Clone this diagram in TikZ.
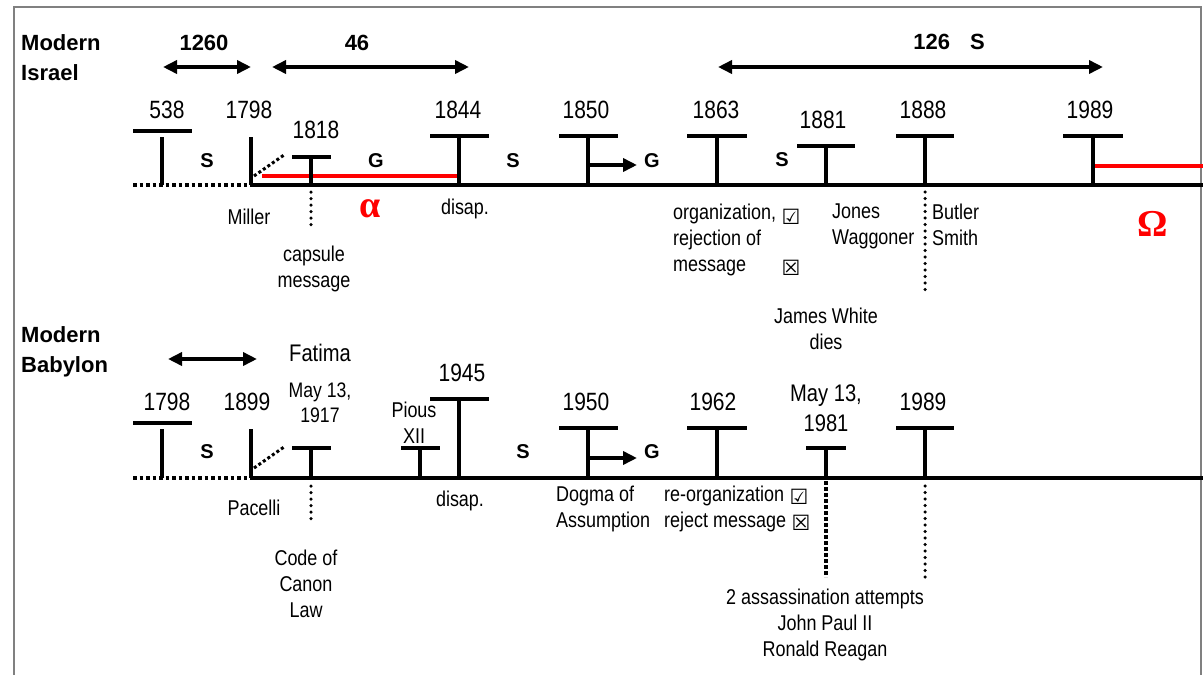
\documentclass[tikz,border=0pt]{standalone}
\usepackage{fontspec}
\setmainfont{Liberation Sans}
\newfontfamily\narrowfont[FakeStretch=0.84]{Liberation Sans}
\newfontfamily\boxfont{DejaVu Sans}
\newfontfamily\greekfont{Liberation Serif}
\usetikzlibrary{arrows.meta}

\begin{document}
\begin{tikzpicture}[x=1pt,y=-1pt,
  every node/.style={inner sep=0pt},
  year/.style={font=\narrowfont\fontsize{25}{28}\selectfont},
  lbl/.style={font=\narrowfont\fontsize{21.4}{26}\selectfont, align=center},
  head/.style={font=\bfseries\fontsize{22}{30}\selectfont},
  seg/.style={font=\bfseries\fontsize{20}{24}\selectfont},
  tick/.style={font=\boxfont\bfseries\fontsize{21}{22}\selectfont},
  greek/.style={font=\greekfont\bfseries\fontsize{38}{38}\selectfont, text=red},
  axis/.style={line width=3.6pt},
  early/.style={line width=3.6pt, dash pattern=on 3.5pt off 3pt},
  tbar/.style={line width=4pt},
  link/.style={line width=3pt, dash pattern=on 3pt off 2.5pt},
  drop/.style={line width=3.5pt, line cap=round, dash pattern=on 0pt off 6.5pt},
  sqdrop/.style={line width=3.5pt, dash pattern=on 3.5pt off 2.5pt},
  era/.style={line width=3.6pt, red},
  span/.style={line width=3.5pt, {Triangle[length=14pt,width=13pt]}-{Triangle[length=14pt,width=13pt]}},
  push/.style={line width=3.5pt, -{Triangle[length=14pt,width=13pt]}}
]
\useasboundingbox (0,0) rectangle (1203,675);
\draw[gray, line width=1.2pt] (14,680) -- (14,7) -- (1201,7) -- (1201,680);

% Modern Israel
\node[head, anchor=base west] (hIsr1) at (21,50) {Modern};
\node[head, anchor=base west] (hIsr2) at (21,80) {Israel};
\node[head] (n1260) at (204,43) {1260};
\node[head] (n46) at (357,43) {46};
\node[head] (n126) at (949,42) {126\hspace{20pt}S};
\coordinate (s1260a) at (163,67);
\coordinate (s1260b) at (251,67);
\coordinate (s46a) at (272,67);
\coordinate (s46b) at (469,67);
\coordinate (s126a) at (718,67);
\coordinate (s126b) at (1103,67);
\draw[span] (s1260a) -- (s1260b);
\draw[span] (s46a) -- (s46b);
\draw[span] (s126a) -- (s126b);

\draw[early] (133,185) -- (250,185);
\draw[axis] (250,185) -- (1203,185);
\draw[era] (262,176) -- (459,176);
\draw[era] (1093,166) -- (1203,166);

\draw[tbar] (133,131) -- (192,131);
\draw[tbar] (162,137) -- (162,185);
\draw[tbar] (251,137) -- (251,185);
\draw[link] (254,176) -- (284,155);
\draw[tbar] (292,157) -- (331,157);
\draw[tbar] (311,157) -- (311,185);
\draw[tbar] (430,136) -- (489,136);
\draw[tbar] (459,136) -- (459,185);
\draw[tbar] (559,136) -- (618,136);
\draw[tbar] (588,136) -- (588,185);
\coordinate (g1850a) at (588,165);
\coordinate (g1850b) at (637,165);
\draw[push] (g1850a) -- (g1850b);
\draw[tbar] (687,136) -- (747,136);
\draw[tbar] (717,136) -- (717,185);
\draw[tbar] (797,146) -- (855,146);
\draw[tbar] (826,146) -- (826,185);
\draw[tbar] (896,136) -- (954,136);
\draw[tbar] (925,136) -- (925,185);
\draw[tbar] (1063,136) -- (1123,136);
\draw[tbar] (1093,136) -- (1093,185);

\node[year] (y538) at (167,110) {538};
\node[year] (y1798a) at (249,110) {1798};
\node[year] (y1818) at (316,130) {1818};
\node[year] (y1844) at (458,110) {1844};
\node[year] (y1850) at (586,110) {1850};
\node[year] (y1863) at (716,110) {1863};
\node[year] (y1881) at (823,120) {1881};
\node[year] (y1888) at (923,110) {1888};
\node[year] (y1989a) at (1090,110) {1989};

\node[seg] (sA) at (207,161) {S};
\node[seg] (gA) at (376,161) {G};
\node[seg] (sB) at (513,161) {S};
\node[seg] (gB) at (652,161) {G};
\node[seg] (sC) at (782,160) {S};

\draw[drop] (311,192) -- (311,231);
\draw[drop] (925,192) -- (925,292);
\node[lbl] (lMiller) at (249,217) {Miller};
\node[lbl] (lCapsule) at (314,269) {capsule\\message};
\node[greek] (alpha) at (370,209) {α};
\node[lbl] (lDisapA) at (465,209) {disap.};
\node[lbl, anchor=north west, align=left] (lOrg) at (673,204) {organization,\\rejection of\\message};
\node[tick] (okA) at (791,217) {☑};
\node[tick] (noA) at (791,268) {☒};
\node[lbl, anchor=north west, align=left] (lJones) at (832,204) {Jones\\Waggoner};
\node[lbl, anchor=north west, align=left] (lButler) at (932,204) {Butler\\Smith};
\node[lbl] (lWhite) at (826,329) {James White\\dies};
\node[greek] (omega) at (1153,224) {Ω};

% Modern Babylon
\node[head, anchor=base west] (hBab1) at (21,342) {Modern};
\node[head, anchor=base west] (hBab2) at (21,372) {Babylon};
\coordinate (sBaba) at (168,359);
\coordinate (sBabb) at (257,359);
\draw[span] (sBaba) -- (sBabb);

\draw[early] (133,478) -- (250,478);
\draw[axis] (250,478) -- (1203,478);

\draw[tbar] (133,423) -- (192,423);
\draw[tbar] (162,429) -- (162,478);
\draw[tbar] (251,429) -- (251,478);
\draw[link] (254,468) -- (284,447);
\draw[tbar] (292,448) -- (331,448);
\draw[tbar] (311,448) -- (311,478);
\draw[tbar] (401,448) -- (440,448);
\draw[tbar] (420,448) -- (420,478);
\draw[tbar] (430,399) -- (489,399);
\draw[tbar] (459,399) -- (459,478);
\draw[tbar] (559,428) -- (618,428);
\draw[tbar] (588,428) -- (588,478);
\coordinate (g1950a) at (588,458);
\coordinate (g1950b) at (637,458);
\draw[push] (g1950a) -- (g1950b);
\draw[tbar] (687,428) -- (747,428);
\draw[tbar] (717,428) -- (717,478);
\draw[tbar] (806,448) -- (846,448);
\draw[tbar] (826,448) -- (826,478);
\draw[tbar] (896,428) -- (954,428);
\draw[tbar] (925,428) -- (925,478);

\node[year] (y1798b) at (167,402) {1798};
\node[year] (y1899) at (247,402) {1899};
\node[font=\narrowfont\fontsize{24}{28}\selectfont] (lFatima) at (320,353) {Fatima};
\node[lbl, font=\narrowfont\fontsize{21}{25}\selectfont] (y1917) at (320,403) {May 13,\\1917};
\node[lbl] (lPious) at (414,423) {Pious\\XII};
\node[year] (y1945) at (462,373) {1945};
\node[year] (y1950) at (586,402) {1950};
\node[year] (y1962) at (713,402) {1962};
\node[lbl, font=\narrowfont\fontsize{24}{30}\selectfont] (y1981) at (826,408) {May 13,\\1981};
\node[year] (y1989b) at (923,402) {1989};

\node[seg] (sD) at (207,452) {S};
\node[seg] (sE) at (523,452) {S};
\node[seg] (gC) at (652,452) {G};

\draw[drop] (311,486) -- (311,523);
\draw[sqdrop] (826,481) -- (826,577);
\draw[drop] (925,486) -- (925,580);
\node[lbl] (lPacelli) at (254,508) {Pacelli};
\node[lbl] (lCanon) at (306,584) {Code of\\Canon\\Law};
\node[lbl] (lDisapB) at (460,501) {disap.};
\node[lbl, anchor=north west, align=left] (lDogma) at (556,486) {Dogma of\\Assumption};
\node[lbl, anchor=north west, align=left] (lReorg) at (664,486) {re-organization\\reject message};
\node[tick] (okB) at (799,497) {☑};
\node[tick] (noB) at (801,523) {☒};
\node[lbl] (lShots) at (825,625) {2 assassination attempts\\John Paul II\\Ronald Reagan};
\end{tikzpicture}
\end{document}
